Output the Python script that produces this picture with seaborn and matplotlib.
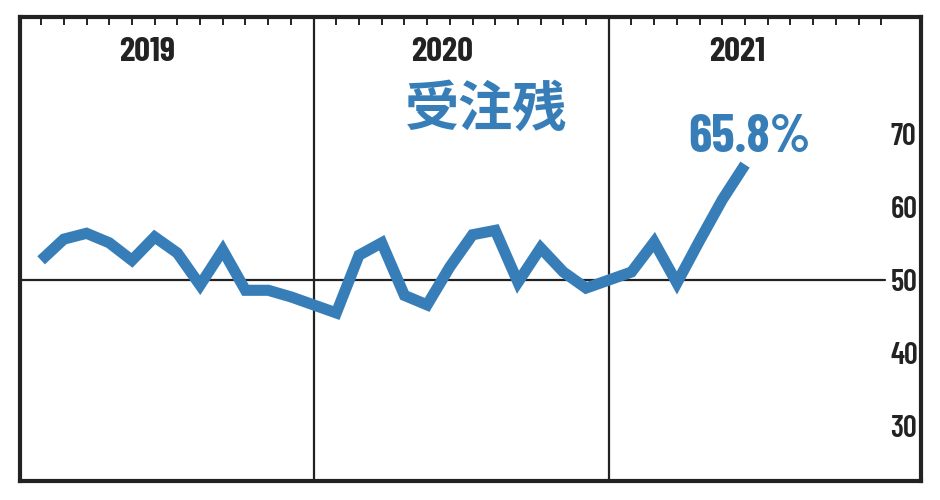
import pandas as pd
import matplotlib.pyplot as plt
from matplotlib import font_manager
import seaborn as sns

# order backlog index, monthly
years = ["2019", "2020", "2021"]
values_2019 = [52.7, 55.6, 56.4, 55.1, 52.7, 55.9, 53.7, 49.3, 54.1, 48.6, 48.6, 47.7]
values_2020 = [45.5, 53.4, 55.1, 47.9, 46.6, 51.8, 56.2, 56.8, 49.7, 54.4, 51.1, 48.9]
values_2021 = [51.1, 55.2, 49.6, 55.4, 61.0, 65.8]
y_ticks = [30, 40, 50, 60, 70]
title = "受注残"
last_label = "65.8%"

BLUE = "#377eb8"
INK = "#222222"


def pick_font(candidates):
    installed = {f.name for f in font_manager.fontManager.ttflist}
    for name in candidates:
        if name in installed:
            return name
    return "DejaVu Sans"


NUM_FONT = [pick_font(["Barlow Condensed", "Roboto Condensed", "Archivo Narrow",
                       "Liberation Sans Narrow"]), "DejaVu Sans"]
CJK_FONT = ["Noto Sans CJK JP", "DejaVu Sans"]

# each year gets 13 slots on the x axis, the 13th holds the separator line
rows = []
for yi, vals in enumerate([values_2019, values_2020, values_2021]):
    for m, v in enumerate(vals):
        rows.append({"slot": yi * 13 + m + 1, "value": v})
df = pd.DataFrame(rows)

sns.set_style("white")

fig = plt.figure(figsize=(9.4, 5), dpi=100)
ax = fig.add_axes([20 / 940, 19 / 500, 901 / 940, 464 / 500])

sns.lineplot(data=df, x="slot", y="value", ax=ax, color=BLUE, linewidth=8,
             solid_joinstyle="miter", solid_capstyle="butt", zorder=3)

ax.set_xlim(0.07, 39.75)
ax.set_ylim(22.5, 86)

# separators between years and the 50 line
for yi in range(1, len(years)):
    ax.axvline(yi * 13, color=INK, linewidth=1.6, zorder=2)
ax.axhline(50, xmin=0, xmax=0.96, color=INK, linewidth=1.6, zorder=2)

# month ticks at the top
month_slots = [yi * 13 + m + 1 for yi in range(len(years)) for m in range(12)]
ax.set_xticks(month_slots)
ax.tick_params(axis="x", top=True, bottom=False, labelbottom=False,
               direction="in", length=6, width=1.4, color=INK)

# y labels inside on the right
ax.set_yticks(y_ticks)
ax.set_yticklabels([str(t) for t in y_ticks])
ax.tick_params(axis="y", left=False, labelleft=False, right=True, labelright=True,
               direction="in", length=0, pad=-22)
for lab in ax.get_yticklabels():
    lab.set_fontfamily(NUM_FONT)
    lab.set_fontsize(22)
    lab.set_fontweight(600)
    lab.set_color(INK)

ax.set_xlabel("")
ax.set_ylabel("")
ax.grid(False)

for sp in ax.spines.values():
    sp.set_visible(True)
    sp.set_color(INK)
    sp.set_linewidth(3)

# year labels
for yi, yr in enumerate(years):
    ax.text(yi * 13 + 5.67, 0.925, yr, transform=ax.get_xaxis_transform(),
            ha="center", va="center", fontsize=25, fontweight="bold",
            family=NUM_FONT, color=INK)

ax.text(0.517, 0.80, title, transform=ax.transAxes, ha="center", va="center",
        fontsize=39, fontweight="bold", family=CJK_FONT, color=BLUE)

last = df.iloc[-1]
ax.annotate(last_label, xy=(last["slot"], last["value"]), xytext=(3, 9),
            textcoords="offset points", ha="center", va="baseline",
            fontsize=38, fontweight="bold", family=NUM_FONT, color=BLUE)

fig.savefig("out.png", dpi=100)
